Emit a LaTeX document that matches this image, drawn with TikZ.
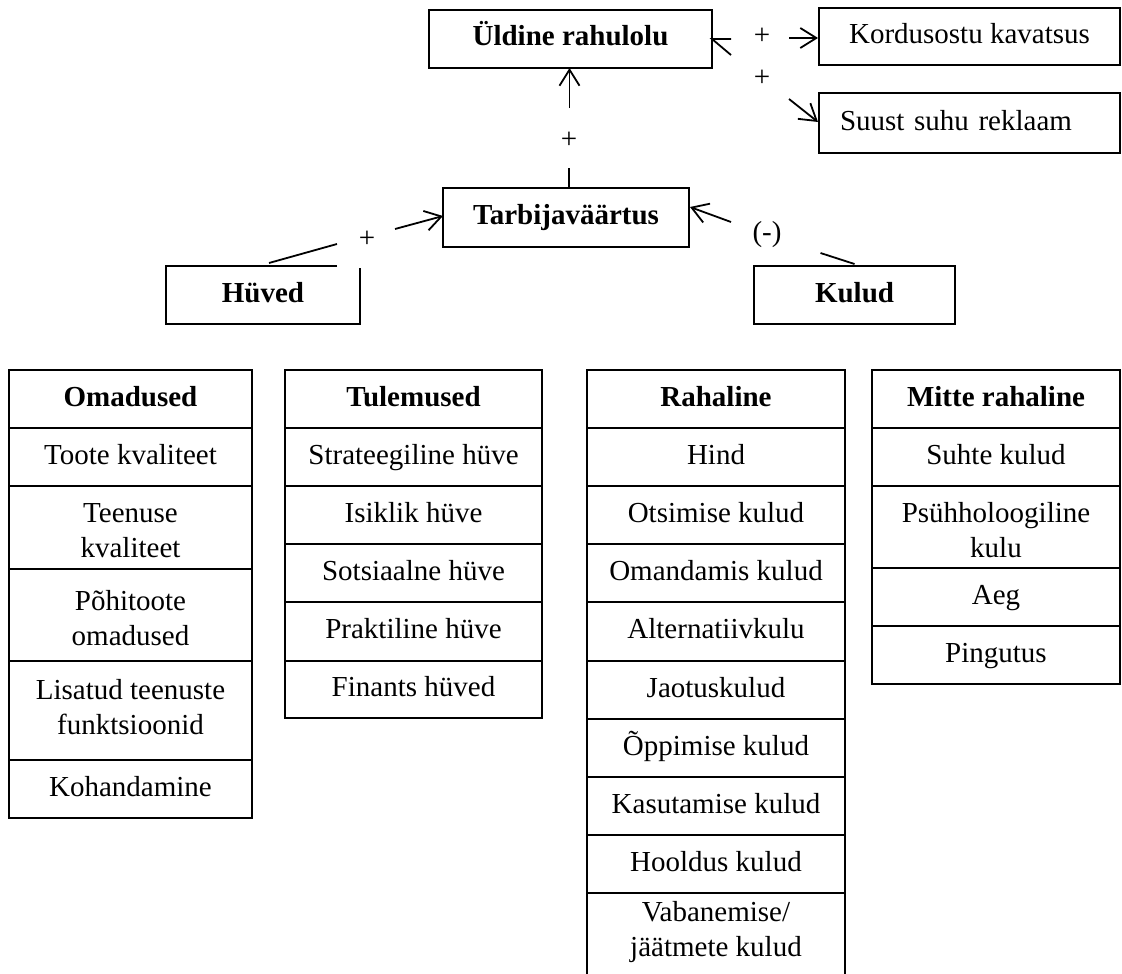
\documentclass[tikz,border=0pt]{standalone}
\usepackage{fontspec}
\setmainfont{Liberation Serif}
\usetikzlibrary{arrows.meta,calc}
\newcommand\tfl{\rule{0pt}{36pt}}
\begin{document}
\begin{tikzpicture}[x=1pt,y=-1pt,line width=1.8pt,
  every node/.style={font=\fontsize{29}{35}\selectfont, inner sep=0pt, outer sep=0pt,
    execute at begin node=\strut, execute at end node=\strut},
  >={Straight Barb[length=16pt,width=20pt]},
  box/.style={draw, align=center},
  cell/.style={draw, anchor=north west, align=center}]
\useasboundingbox (0,0) rectangle (1122,974);

% top boxes
\node[box, minimum width=283pt, minimum height=58pt] (uld) at (570.5,39) {\textbf{Üldine rahulolu}};
\node[box, minimum width=301pt, minimum height=57pt] (kor) at (969.5,36.5) {Kordusostu kavatsus};
\node[draw, align=left, text width=259pt, inner xsep=21pt, minimum height=60pt] (suu) at (969.5,123) {Suust suhu reklaam};
\node[box, minimum width=246pt, minimum height=59pt] (tar) at (566,217.5) {\textbf{Tarbijaväärtus}};
\node[box, minimum width=201pt, minimum height=58pt] (kul) at (854.5,295) {\textbf{Kulud}};
\node[minimum width=194pt, minimum height=58pt] (huv) at (263,295) {\textbf{Hüved}};
\draw ($(huv.north east)+(-23,0)$) -- (huv.north west) -- (huv.south west) -- (huv.south east) -- ($(huv.north east)+(0,2)$);

% labels
\node (p1) at (762,38) {+};
\node (p2) at (762,80) {+};
\node (p3) at (569,141) {+};
\node (p4) at (367,240) {+};
\node (m1) at (767,234) {(-)};

% connectors
\draw ($(uld.east)+(19,0)$) -- (uld.east) -- ($(uld.east)+(19,16)$);
\draw[->] ($(kor.west)+(-30,1.5)$) -- ($(kor.west)+(-1,1.5)$);
\draw[->] ($(suu.west)+(-30,-24)$) -- ($(suu.west)+(-1,-1)$);
\draw[->] ($(uld.south)+(-1,40)$) -- ($(uld.south)+(-1,0)$);
\draw ($(tar.north)+(3,-20)$) -- ($(tar.north)+(3,0)$);
\coordinate (hvA) at ($(huv.north)+(6,-3)$);
\coordinate (hvB) at ($(huv.north east)+(-23,-22)$);
\draw (hvA) -- (hvB);
\draw[->] ($(tar.west)+(-48,11.5)$) -- ($(tar.west)+(0,-1.5)$);
\draw[->] ($(tar.east)+(42,4.5)$) -- ($(tar.east)+(1,-10.5)$);
\draw ($(kul.north)+(-34,-13)$) -- ($(kul.north)+(0,-2)$);

% Omadused
\begin{scope}[every node/.append style={minimum width=243pt}]
\node[cell, minimum height=58pt] (o0) at (9,370) {\textbf{Omadused}};
\node[cell, minimum height=58pt] (o1) at (9,428) {Toote kvaliteet};
\node[cell, minimum height=83pt] (o2) at (9,486) {\tfl Teenuse\\kvaliteet};
\node[cell, minimum height=92pt] (o3) at (9,569) {\tfl Põhitoote\\omadused};
\node[cell, minimum height=99pt] (o4) at (9,661) {};
\node (o4t) at ($(o4.center)+(0,2)$) [align=center] {Lisatud teenuste\\funktsioonid};
\node[cell, minimum height=58pt] (o5) at (9,760) {Kohandamine};
\end{scope}

% Tulemused
\begin{scope}[every node/.append style={minimum width=257pt}]
\node[cell, minimum height=58pt] (t0) at (285,370) {\textbf{Tulemused}};
\node[cell, minimum height=58pt] (t1) at (285,428) {Strateegiline hüve};
\node[cell, minimum height=58pt] (t2) at (285,486) {Isiklik hüve};
\node[cell, minimum height=58pt] (t3) at (285,544) {Sotsiaalne hüve};
\node[cell, minimum height=59pt] (t4) at (285,602) {Praktiline hüve};
\node[cell, minimum height=57pt] (t5) at (285,661) {Finants hüved};
\end{scope}

% Rahaline
\begin{scope}[every node/.append style={minimum width=258pt}]
\node[cell, minimum height=58pt] (r0) at (587,370) {\textbf{Rahaline}};
\node[cell, minimum height=58pt] (r1) at (587,428) {Hind};
\node[cell, minimum height=58pt] (r2) at (587,486) {Otsimise kulud};
\node[cell, minimum height=58pt] (r3) at (587,544) {Omandamis kulud};
\node[cell, minimum height=59pt] (r4) at (587,602) {Alternatiivkulu};
\node[cell, minimum height=58pt] (r5) at (587,661) {Jaotuskulud};
\node[cell, minimum height=58pt] (r6) at (587,719) {Õppimise kulud};
\node[cell, minimum height=58pt] (r7) at (587,777) {Kasutamise kulud};
\node[cell, minimum height=58pt] (r8) at (587,835) {Hooldus kulud};
\node[anchor=north west, align=center, minimum height=75pt] (r9) at (587,893) {\rule{0pt}{28pt}Vabanemise/\\jäätmete kulud};
\end{scope}
\draw ($(r9.south west)+(0,6)$) -- (r9.north west) -- (r9.north east) -- ($(r9.south east)+(0,6)$);

% Mitte rahaline
\begin{scope}[every node/.append style={minimum width=248pt}]
\node[cell, minimum height=58pt] (m0) at (872,370) {\textbf{Mitte rahaline}};
\node[cell, minimum height=58pt] (m1c) at (872,428) {Suhte kulud};
\node[cell, minimum height=82pt] (m2) at (872,486) {\tfl Psühholoogiline\\kulu};
\node[cell, minimum height=58pt] (m3) at (872,568) {Aeg};
\node[cell, minimum height=58pt] (m4) at (872,626) {Pingutus};
\end{scope}
\end{tikzpicture}
\end{document}
